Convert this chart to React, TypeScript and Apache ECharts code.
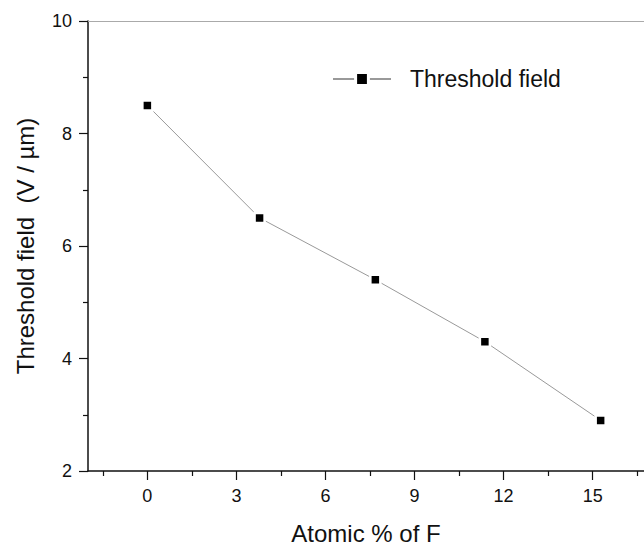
import React, { useEffect, useRef } from "react";
import * as echarts from "echarts";

const atomicF = [0, 3.78, 7.68, 11.37, 15.27];
const thresholdField = [8.5, 6.5, 5.4, 4.3, 2.9];
const xMajorTicks = [0, 3, 6, 9, 12, 15];
const xMinorTicks = [-1.5, 1.5, 4.5, 7.5, 10.5, 13.5, 16.5];
const seriesName = "Threshold field";
const xTitle = "Atomic % of F";
const yTitle = "Threshold field\u00a0\u00a0(V / µm)";

const FONT = "'Liberation Sans', Arial, Helvetica, sans-serif";

export default function App() {
  const ref = useRef<HTMLDivElement>(null);
  useEffect(() => {
    if (!ref.current) return;
    const chart = echarts.init(ref.current, undefined, { renderer: "svg" });
    const pts = atomicF.map((x, i) => [x, thresholdField[i]]);
    chart.setOption({
      animation: false,
      backgroundColor: "#fff",
      textStyle: { fontFamily: FONT },
      grid: { left: 88, top: 21, right: 0, bottom: 76, containLabel: false },
      legend: {
        show: true,
        data: [
          {
            name: seriesName,
            itemStyle: { color: "#000", borderColor: "#fff", borderWidth: 3 },
          },
        ],
        left: 332,
        top: 66,
        padding: 0,
        itemWidth: 58,
        itemHeight: 16,
        textStyle: {
          fontFamily: FONT,
          fontSize: 23,
          color: "#111",
          lineHeight: 26,
          padding: [0, 0, 0, 14],
        },
      },
      xAxis: [
        {
          type: "value",
          position: "bottom",
          min: -2,
          max: 16.73,
          name: xTitle,
          nameLocation: "middle",
          nameGap: 50,
          nameTextStyle: { fontFamily: FONT, fontSize: 24, color: "#111" },
          axisLine: { show: true, onZero: false, lineStyle: { color: "#111", width: 1.5 } },
          axisTick: {
            show: true,
            inside: false,
            length: 9,
            customValues: xMajorTicks,
            lineStyle: { color: "#111", width: 1.2 },
          },
          axisLabel: {
            show: true,
            customValues: xMajorTicks,
            margin: 16,
            fontFamily: FONT,
            fontSize: 18,
            color: "#111",
          },
          splitLine: { show: false },
        },
        {
          type: "value",
          position: "bottom",
          min: -2,
          max: 16.73,
          axisLine: { show: false, onZero: false },
          axisTick: {
            show: true,
            inside: false,
            length: 5,
            customValues: xMinorTicks,
            lineStyle: { color: "#111", width: 1.2 },
          },
          axisLabel: { show: false },
          splitLine: { show: false },
        },
        {
          type: "value",
          position: "top",
          min: -2,
          max: 16.73,
          axisLine: { show: true, onZero: false, lineStyle: { color: "#aaa", width: 1 } },
          axisTick: { show: false },
          axisLabel: { show: false },
          splitLine: { show: false },
        },
      ],
      yAxis: {
        type: "value",
        min: 2,
        max: 10,
        interval: 2,
        name: yTitle,
        nameLocation: "middle",
        nameGap: 51,
        nameTextStyle: { fontFamily: FONT, fontSize: 24, color: "#111" },
        axisLine: { show: true, onZero: false, lineStyle: { color: "#111", width: 1.5 } },
        axisTick: {
          show: true,
          inside: false,
          length: 9,
          lineStyle: { color: "#111", width: 1.2 },
        },
        minorTick: {
          show: true,
          splitNumber: 2,
          length: 5,
          lineStyle: { color: "#111", width: 1.2 },
        },
        axisLabel: {
          margin: 16,
          fontFamily: FONT,
          fontSize: 18,
          color: "#111",
        },
        splitLine: { show: false },
      },
      series: [
        {
          name: seriesName,
          type: "line",
          xAxisIndex: 0,
          data: pts,
          symbol: "rect",
          symbolSize: 10,
          lineStyle: { color: "#999", width: 1 },
          itemStyle: { color: "#000", borderColor: "#fff", borderWidth: 2.5 },
        },
      ],
    });
    return () => chart.dispose();
  }, []);
  return (
    <div
      ref={ref}
      style={{ position: "fixed", left: 0, top: 0, width: 644, height: 550 }}
    />
  );
}
